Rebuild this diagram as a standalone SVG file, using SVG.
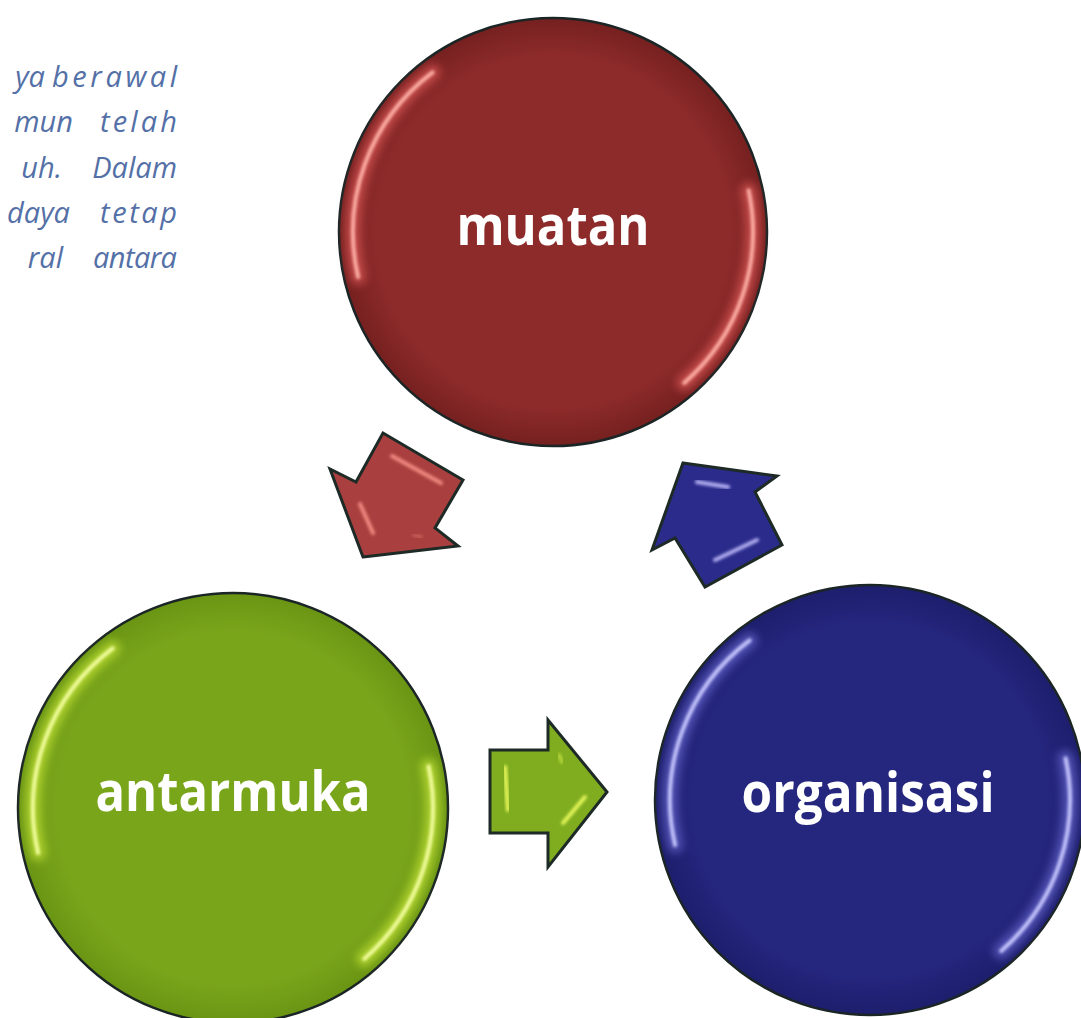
<svg xmlns="http://www.w3.org/2000/svg" width="1081" height="1018" viewBox="0 0 1081 1018">
  <defs>
    <filter id="soft" x="-30%" y="-30%" width="160%" height="160%">
      <feGaussianBlur stdDeviation="1.4"/>
    </filter>
    <filter id="glow" x="-30%" y="-30%" width="160%" height="160%">
      <feGaussianBlur stdDeviation="4"/>
    </filter>
    <radialGradient id="fillRed" cx="50%" cy="50%" r="50%">
      <stop offset="0.82" stop-color="#8d2b2a"/>
      <stop offset="1" stop-color="#762020"/>
    </radialGradient>
    <radialGradient id="fillGreen" cx="50%" cy="50%" r="50%">
      <stop offset="0.82" stop-color="#79a51b"/>
      <stop offset="1" stop-color="#6a9514"/>
    </radialGradient>
    <radialGradient id="fillBlue" cx="50%" cy="50%" r="50%">
      <stop offset="0.82" stop-color="#25267e"/>
      <stop offset="1" stop-color="#1d1e6c"/>
    </radialGradient>
    <!-- glossy rim arcs, relative to a disc centre -->
    <path id="arcUL" d="M -120.4 -159.7 A 200 200 0 0 0 -194.9 45"/>
    <path id="arcLR" d="M 195.6 -41.6 A 200 200 0 0 1 131.2 150.9"/>
  </defs>
  <style>
    .disc { stroke: #1b2525; stroke-width: 2.5; }
    .gloss { fill: none; stroke-linecap: round; stroke-width: 4; filter: url(#soft); }
    .halo { fill: none; stroke-linecap: round; stroke-width: 16; opacity: 0.5; filter: url(#glow); }
    .label { font-family: "Open Sans", "Noto Sans", sans-serif; font-weight: 700; font-size: 56px; fill: #ffffff; text-anchor: middle; }
    .arrow { stroke: #1d2a26; stroke-width: 3; stroke-linejoin: miter; }
    .bevel { fill: none; stroke-width: 4; stroke-linecap: round; filter: url(#soft); }
    .body { font-family: "Open Sans", "Noto Sans", sans-serif; font-style: italic; font-size: 29px; fill: #5470a7; text-anchor: end; }
  </style>

  <rect width="1081" height="1018" fill="#ffffff"/>

  <!-- paragraph fragment on the left margin -->
  <g id="body-text">
    <text class="body" x="45" y="87">ya</text>
    <text class="body" x="177" y="87" textLength="125" lengthAdjust="spacing">berawal</text>
    <text class="body" x="73" y="132">mun</text>
    <text class="body" x="177" y="132" textLength="77" lengthAdjust="spacing">telah</text>
    <text class="body" x="62" y="178">uh.</text>
    <text class="body" x="177" y="178">Dalam</text>
    <text class="body" x="70" y="223">daya</text>
    <text class="body" x="177" y="223" textLength="77" lengthAdjust="spacing">tetap</text>
    <text class="body" x="63" y="268">ral</text>
    <text class="body" x="177" y="268" textLength="84" lengthAdjust="spacing">antara</text>
  </g>

  <!-- connectors: bevelled block arrows -->
  <g id="connectors">
    <g id="arrow-muatan-antarmuka">
      <polygon class="arrow" fill="#a9403f" points="363,557 458,546 435,528 463,480 383,433 356,482 330,469"/>
      <line class="bevel" stroke="#f08a80" x1="392" y1="456" x2="441" y2="483"/>
      <line class="bevel" stroke="#f08a80" x1="360" y1="504" x2="373" y2="533"/>
      <line class="bevel" stroke="#d86a64" x1="414" y1="535" x2="421" y2="537" opacity="0.6"/>
    </g>
    <g id="arrow-antarmuka-organisasi">
      <polygon class="arrow" fill="#7fad1f" points="607,792 548,720 548,750 490,750 490,833 548,833 548,867"/>
      <line class="bevel" stroke="#e6f75a" x1="505" y1="767" x2="508" y2="810"/>
      <line class="bevel" stroke="#e6f75a" x1="563" y1="823" x2="585" y2="797"/>
      <line class="bevel" stroke="#d6ee4a" x1="559" y1="755" x2="562" y2="762" opacity="0.6"/>
    </g>
    <g id="arrow-organisasi-muatan">
      <polygon class="arrow" fill="#2b2b8c" points="683,463 777,476 755,492 782,545 705,587 675,538 652,550"/>
      <line class="bevel" stroke="#b4b0f2" x1="697" y1="482" x2="728" y2="487"/>
      <line class="bevel" stroke="#b4b0f2" x1="715" y1="560" x2="757" y2="540"/>
    </g>
  </g>

  <!-- nodes -->
  <g id="node-muatan" transform="translate(553,232)">
    <circle class="disc" r="214" fill="url(#fillRed)"/>
    <use href="#arcUL" class="halo" stroke="#ff6a6a"/>
    <use href="#arcLR" class="halo" stroke="#ff6a6a"/>
    <use href="#arcUL" class="gloss" stroke="#ffb0a8"/>
    <use href="#arcLR" class="gloss" stroke="#ffb0a8"/>
    <text class="label" x="0" y="13" textLength="193" lengthAdjust="spacingAndGlyphs">muatan</text>
  </g>

  <g id="node-antarmuka" transform="translate(233,808)">
    <circle class="disc" r="215" fill="url(#fillGreen)"/>
    <use href="#arcUL" class="halo" stroke="#e2ff40"/>
    <use href="#arcLR" class="halo" stroke="#e2ff40"/>
    <use href="#arcUL" class="gloss" stroke="#f4ffa0"/>
    <use href="#arcLR" class="gloss" stroke="#f4ffa0"/>
    <text class="label" x="0" y="3" textLength="275" lengthAdjust="spacingAndGlyphs">antarmuka</text>
  </g>

  <g id="node-organisasi" transform="translate(870,800)">
    <circle class="disc" r="215" fill="url(#fillBlue)"/>
    <use href="#arcUL" class="halo" stroke="#7f7ff0"/>
    <use href="#arcLR" class="halo" stroke="#7f7ff0"/>
    <use href="#arcUL" class="gloss" stroke="#c8c8ff"/>
    <use href="#arcLR" class="gloss" stroke="#c8c8ff"/>
    <text class="label" x="-2" y="12" textLength="253" lengthAdjust="spacingAndGlyphs">organisasi</text>
  </g>
</svg>
